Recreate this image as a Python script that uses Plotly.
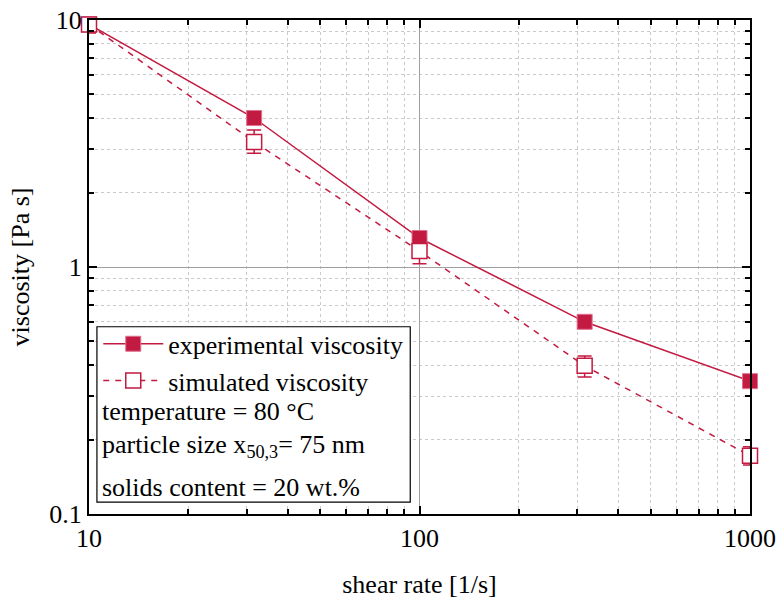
import plotly.graph_objects as go

shear_rate = [10, 31.6, 100, 316, 1000]
exp_visc = [9.6, 4.01, 1.31, 0.60, 0.345]
sim_visc = [9.6, 3.21, 1.16, 0.398, 0.172]
sim_err_plus = [0.9, 0.38, 0.13, 0.038, 0.015]
sim_err_minus = [0.75, 0.32, 0.13, 0.039, 0.014]

x_tickvals = [10, 100, 1000]
x_ticktext = ["10", "100", "1000"]
y_tickvals = [0.1, 1, 10]
y_ticktext = ["0.1", "1", "10"]

legend_lines = ["temperature = 80 °C",
                "particle size x<sub>50,3</sub>= 75 nm",
                "solids content = 20 wt.%"]

color = "#c21a40"
font_family = "Liberation Serif"
fs = 26

minor_x = [v * m for v in [10, 100] for m in range(2, 10)]
minor_y = [v * m for v in [0.1, 1] for m in range(2, 10)]

fig = go.Figure()
fig.add_trace(go.Scatter(
    x=shear_rate, y=exp_visc, mode="lines+markers", name="experimental viscosity",
    line=dict(color=color, width=1.5), cliponaxis=False,
    marker=dict(symbol="square", size=15, color=color, line=dict(color="#e07090", width=1)),
))
fig.add_trace(go.Scatter(
    x=shear_rate, y=sim_visc, mode="lines+markers", name="simulated viscosity",
    line=dict(color=color, width=1.5, dash="6px,6px"), cliponaxis=False,
    marker=dict(symbol="square", size=15, color="white", line=dict(color=color, width=1.5)),
    error_y=dict(type="data", symmetric=False, array=sim_err_plus, arrayminus=sim_err_minus,
                 color=color, thickness=1.5, width=7),
))

axis_common = dict(
    type="log", showline=True, linecolor="black", linewidth=2, mirror="allticks",
    ticks="inside", ticklen=8, tickwidth=2, tickcolor="black",
    showgrid=True, gridcolor="#a0a0a0", gridwidth=1,
    tickfont=dict(family=font_family, size=fs, color="black"),
    zeroline=False, automargin=False,
)

fig.update_xaxes(
    **axis_common, range=[1, 3], tickmode="array", tickvals=x_tickvals, ticktext=x_ticktext,
    minor=dict(tickmode="array", tickvals=minor_x, ticks="inside", ticklen=5, tickcolor="black",
               tickwidth=1.5, showgrid=True, gridcolor="#cacaca", griddash="3px,3px", gridwidth=1),
    title=dict(text="shear rate [1/s]", font=dict(family=font_family, size=fs, color="black"), standoff=24),
)
fig.update_yaxes(
    **axis_common, range=[-1, 1], tickmode="array", tickvals=y_tickvals, ticktext=y_ticktext,
    minor=dict(tickmode="array", tickvals=minor_y, ticks="inside", ticklen=5, tickcolor="black",
               tickwidth=1.5, showgrid=True, gridcolor="#cacaca", griddash="3px,3px", gridwidth=1),
    title=dict(text="viscosity [Pa s]", font=dict(family=font_family, size=fs, color="black"), standoff=12),
)

fig.add_shape(type="rect", xref="paper", yref="paper", x0=0.012, x1=0.486, y0=0.024, y1=0.379,
              line=dict(color="black", width=1.2), fillcolor="white", layer="above")

ys = [0.207, 0.138, 0.053]
for txt, yy in zip(legend_lines, ys):
    fig.add_annotation(text=txt, xref="paper", yref="paper", x=0.016, y=yy, xanchor="left",
                       yanchor="middle", showarrow=False,
                       font=dict(family=font_family, size=fs, color="black"))

fig.update_layout(
    width=778, height=599, margin=dict(l=89, r=28, t=20, b=85),
    paper_bgcolor="white", plot_bgcolor="white",
    font=dict(family=font_family, size=fs, color="black"),
    showlegend=True,
    legend=dict(x=0.014, y=0.392, xanchor="left", yanchor="top", bgcolor="rgba(0,0,0,0)",
                borderwidth=0, font=dict(family=font_family, size=fs, color="black"),
                tracegroupgap=0, itemwidth=60),
)

fig.write_html("out.html")
